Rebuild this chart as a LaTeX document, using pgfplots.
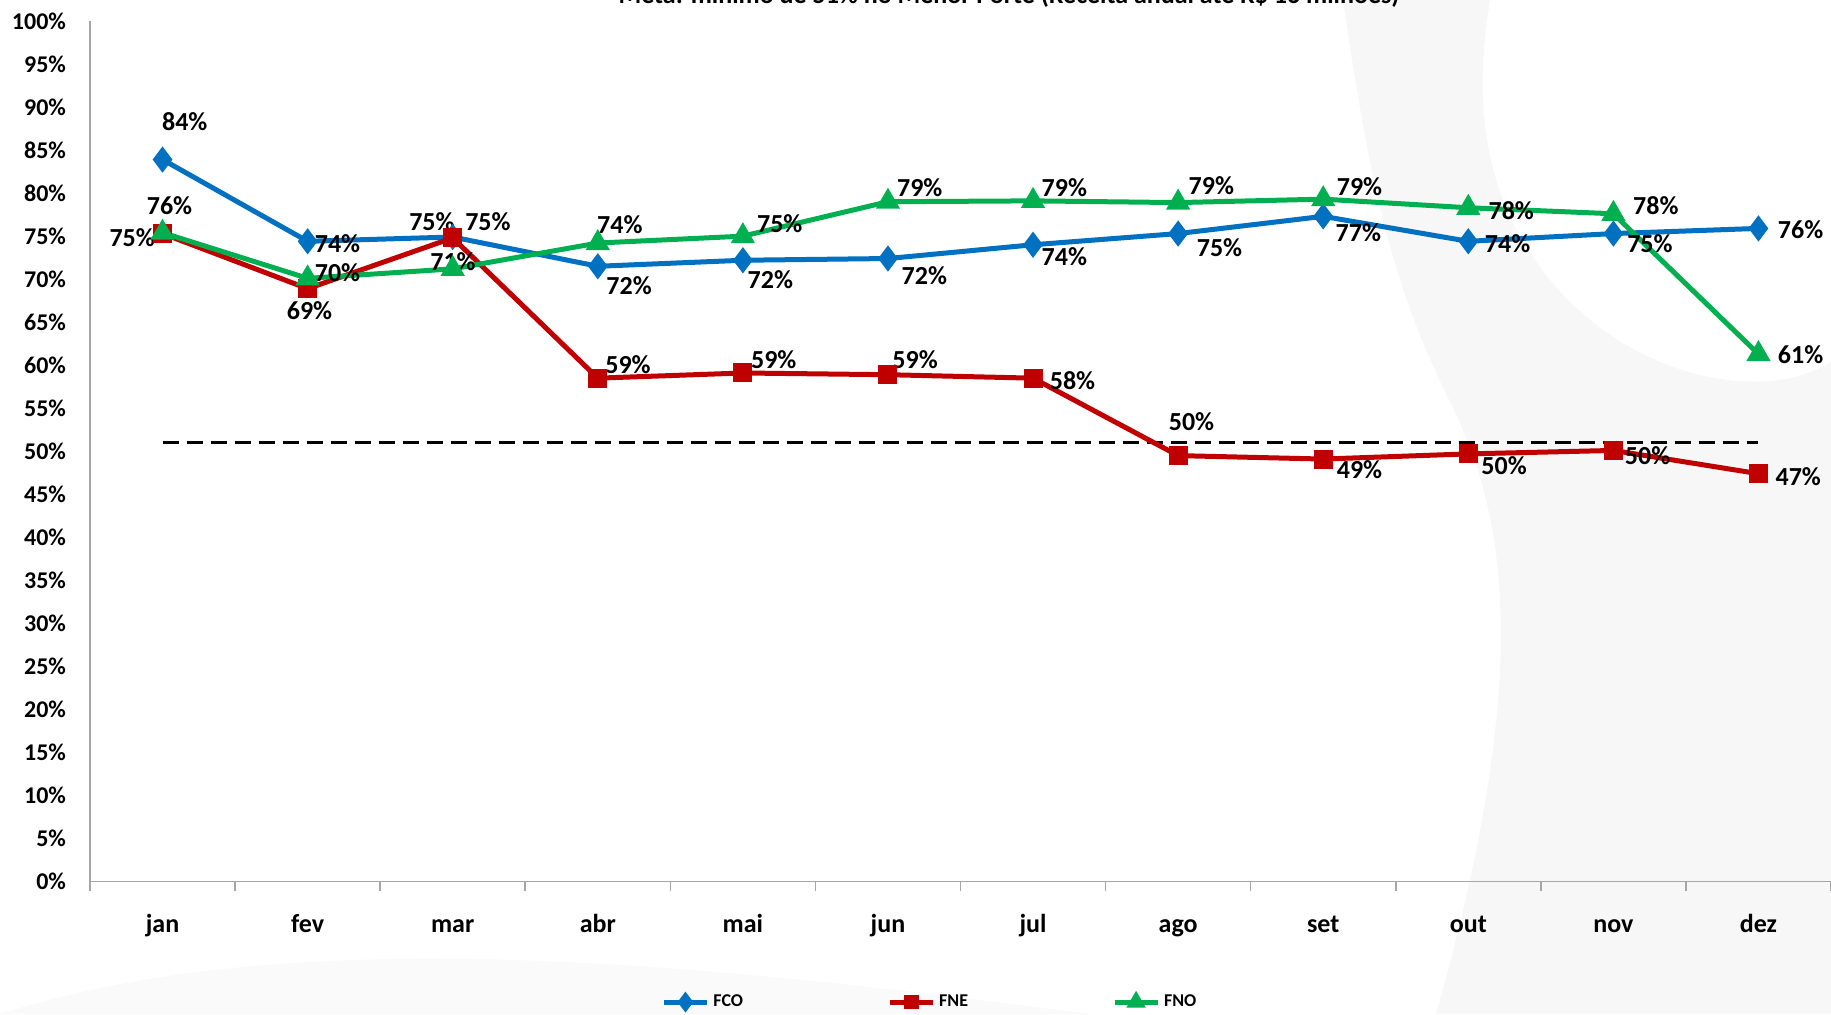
\documentclass[border=0pt]{standalone}
\usepackage{fontspec}
\setmainfont{Carlito}
\usepackage{pgfplots}
\pgfplotsset{compat=1.18}
\definecolor{fco}{HTML}{0070C0}
\definecolor{fne}{HTML}{C00000}
\definecolor{fno}{HTML}{00B050}
\begin{document}
\begin{tikzpicture}[font=\bfseries]
\useasboundingbox (-45pt,-66.2pt) rectangle (870.5pt,440.8pt);
% light decorative background swoosh
\fill[black!3] (626.4pt,440.8pt) .. controls (640pt,350pt) and (650pt,300pt) .. (680pt,240pt)
  .. controls (710pt,180pt) and (720pt,100pt) .. (673pt,-66.2pt) -- (870.5pt,-66.2pt) -- (870.5pt,440.8pt) -- cycle;
\fill[white] (700pt,440.8pt) .. controls (690pt,380pt) and (700pt,330pt) .. (740pt,290pt)
  .. controls (780pt,250pt) and (840pt,240pt) .. (870.5pt,260pt) -- (870.5pt,440.8pt) -- cycle;
\fill[black!2] (-45pt,-66.2pt) .. controls (100pt,-20pt) and (300pt,-40pt) .. (500pt,-66.2pt) -- cycle;
\node[anchor=base, font=\fontsize{13}{15}\selectfont\bfseries] at (459.5pt,438.8pt) {Meta: mínimo de 51\% no Menor Porte (Receita anual até R\$ 16 milhões)};
\begin{axis}[
 scale only axis, width=870.5pt, height=430.3pt,
 xmin=-0.5, xmax=11.5, ymin=0, ymax=100,
 clip=false,
 axis lines=left,
 axis line style={-, gray!70, line width=0.8pt},
 /pgf/number format/assume math mode=true,
 xtick={-0.5,0.5,...,11.5},
 xticklabels={},
 major tick length=4.5pt,
 tick align=outside,
 major x tick style={gray!70, line width=0.8pt},
 extra x ticks={0,...,11},
 extra x tick labels={jan,fev,mar,abr,mai,jun,jul,ago,set,out,nov,dez},
 extra x tick style={major x tick style={draw=none}},
 x tick label style={font=\fontsize{13}{15}\selectfont\bfseries, text height=1.6ex, text depth=0.3ex, yshift=-10pt},
 ytick={0,5,...,100},
 yticklabel={\pgfmathprintnumber{\tick}\%},
 major y tick style={draw=none},
 y tick label style={font=\fontsize{12}{14}\selectfont\bfseries, xshift=-4pt},
 legend style={at={(0.483,-0.14)}, anchor=center, legend columns=3, draw=none, fill=none,
   font=\fontsize{9}{10}\selectfont\bfseries,
   /tikz/every even column/.append style={column sep=70pt}},
 legend image code/.code={\draw[#1, mark repeat=2, mark phase=2, every mark/.append style={scale=0.7}] plot coordinates {(0pt,0pt) (10.75pt,0pt) (21.5pt,0pt)};},
]
\addplot[black, line width=1.5pt, dash pattern=on 8pt off 4pt, forget plot] coordinates {(0,51) (11,51)};
\addplot[fco, line width=2.5pt, mark=diamond*, mark size=4.5pt] coordinates {
 (0,83.9) (1,74.4) (2,74.9) (3,71.5) (4,72.2) (5,72.4) (6,74.0) (7,75.3) (8,77.3) (9,74.4) (10,75.3) (11,75.9)};
\addlegendentry{FCO}
\addplot[fne, line width=2.5pt, mark=square*, mark size=3.5pt] coordinates {
 (0,75.3) (1,68.9) (2,74.8) (3,58.5) (4,59.1) (5,58.9) (6,58.5) (7,49.5) (8,49.1) (9,49.7) (10,50.1) (11,47.4)};
\addlegendentry{FNE}
\addplot[fno, line width=2.5pt, mark=triangle*, mark size=4.5pt] coordinates {
 (0,75.4) (1,70.1) (2,71.2) (3,74.2) (4,75.0) (5,79.0) (6,79.1) (7,78.9) (8,79.3) (9,78.3) (10,77.6) (11,61.3)};
\addlegendentry{FNO}
\begin{scope}[every node/.style={font=\fontsize{13}{15}\selectfont\bfseries, anchor=center}]
% FCO
\node at (axis cs:0.153,88.3) {84\%};
\node at (axis cs:1.206,74.1) {74\%};
\node at (axis cs:2.243,76.7) {75\%};
\node at (axis cs:3.216,69.3) {72\%};
\node at (axis cs:4.189,70.0) {72\%};
\node at (axis cs:5.251,70.4) {72\%};
\node at (axis cs:6.216,72.6) {74\%};
\node at (axis cs:7.285,73.7) {75\%};
\node at (axis cs:8.242,75.4) {77\%};
\node at (axis cs:9.271,74.1) {74\%};
\node at (axis cs:10.252,74.1) {75\%};
\node at (axis cs:11.29,75.8) {76\%};
% FNE
\node at (axis cs:-0.209,74.8) {75\%};
\node at (axis cs:1.013,66.3) {69\%};
\node at (axis cs:1.857,76.7) {75\%};
\node at (axis cs:3.208,60.1) {59\%};
\node at (axis cs:4.213,60.7) {59\%};
\node at (axis cs:5.187,60.7) {59\%};
\node at (axis cs:6.272,58.2) {58\%};
\node at (axis cs:7.092,53.5) {50\%};
\node at (axis cs:8.250,47.9) {49\%};
\node at (axis cs:9.247,48.3) {50\%};
\node at (axis cs:10.236,49.5) {50\%};
\node at (axis cs:11.274,47.1) {47\%};
% FNO
\node at (axis cs:0.048,78.6) {76\%};
\node at (axis cs:1.206,70.8) {70\%};
\node at (axis cs:2.002,72.0) {71\%};
\node at (axis cs:3.152,76.3) {74\%};
\node at (axis cs:4.254,76.4) {75\%};
\node at (axis cs:5.219,80.6) {79\%};
\node at (axis cs:6.216,80.6) {79\%};
\node at (axis cs:7.229,80.9) {79\%};
\node at (axis cs:8.250,80.7) {79\%};
\node at (axis cs:9.296,78.0) {78\%};
\node at (axis cs:10.293,78.6) {78\%};
\node at (axis cs:11.29,61.2) {61\%};
\end{scope}
\end{axis}
\end{tikzpicture}
\end{document}
